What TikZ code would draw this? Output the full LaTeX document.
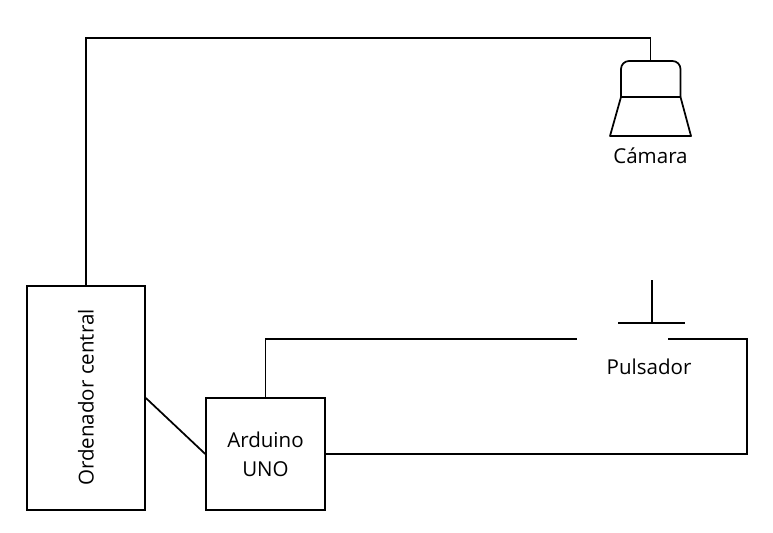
\documentclass[tikz,border=0pt]{standalone}
\usepackage{fontspec}
\setmainfont{Open Sans}
\tikzset{
    caja/.style={draw, line width=1.3pt, inner sep=0pt, align=center, font=\fontsize{15.4}{21.5}\selectfont},
    cable/.style={draw, line width=1.3pt},
    etiqueta/.style={inner sep=0pt, font=\fontsize{15.4}{18}\selectfont}
}

\begin{document}
\begin{tikzpicture}[x=0.75pt, y=-0.75pt]
    \useasboundingbox (0, 0) rectangle (773, 532);
    \node [caja, minimum width=88.5pt, minimum height=168pt] (ordenador) at (86, 398) {};
    \node [etiqueta, rotate=90] (ordenadortxt) at (86, 397.5) {Ordenador central};
    \node [caja, minimum width=89pt, minimum height=84pt] (arduino) at (265.5, 454) {Arduino\\UNO};
    % camara
    \coordinate (camtop) at (650.5, 61);
    \coordinate (camleft) at (621, 97);
    \coordinate (camright) at (680.5, 97);
    \draw [cable, rounded corners=6pt, line join=round] (camleft) |- (camtop) -| (camright);
    \draw [cable, line join=round] (camleft) -- (camright) -- (691, 136) -- (610, 136) -- cycle;
    \node [etiqueta] (camara) at (650.5, 156) {Cámara};
    % pulsador
    \coordinate (pulsizq) at (577, 339);
    \coordinate (pulsder) at (668, 339);
    \coordinate (pulstop) at (652, 280);
    \coordinate (pulsbar) at (652, 323);
    \draw [cable] (618, 323) -- (685, 323);
    \draw [cable] (pulstop) -- (pulsbar);
    \node [etiqueta] (pulsador) at (649, 367) {Pulsador};
    % cables
    \draw [cable] (ordenador.north) |- (650.5, 38) -- (camtop);
    \draw [cable] (ordenador.east) -- (arduino.west);
    \draw [cable] (arduino.north) |- (pulsizq);
    \draw [cable] (arduino.east) -| (747, 339) -- (pulsder);
\end{tikzpicture}
\end{document}
